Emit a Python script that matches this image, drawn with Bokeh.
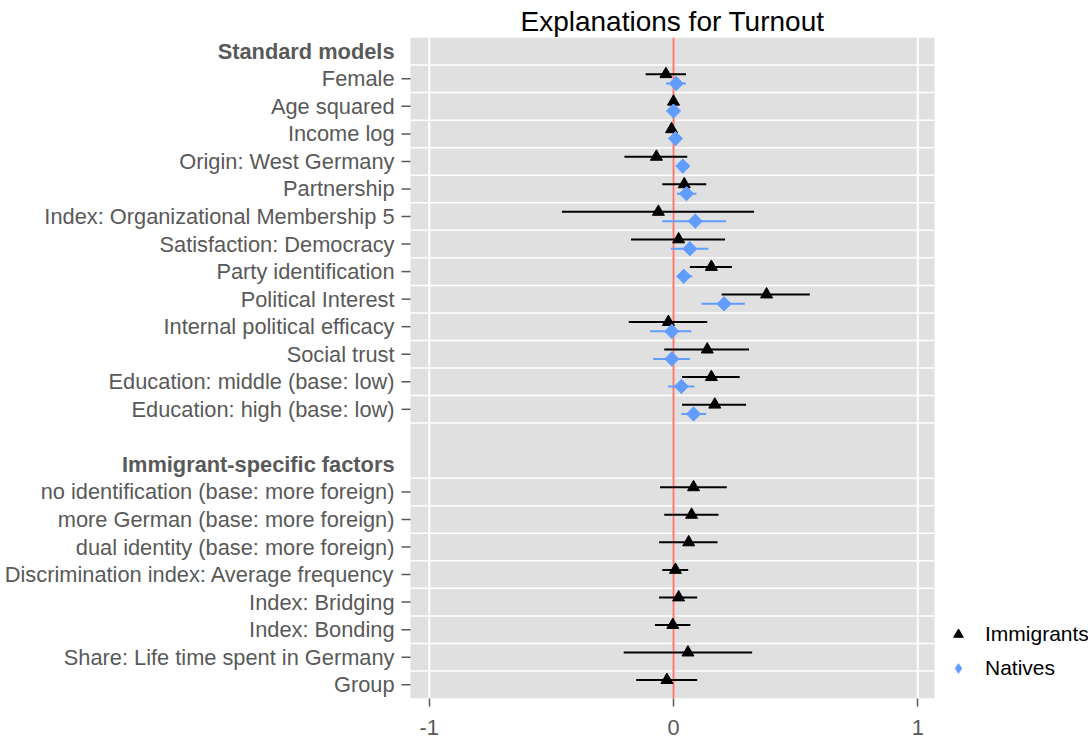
import math
from bokeh.plotting import figure
from bokeh.models import Range1d, FixedTicker, Legend, LegendItem
from bokeh.core.properties import value
from bokeh.embed import file_html
from bokeh.resources import INLINE

# ---------------- data ----------------
title_text = "Explanations for Turnout"
header_standard = "Standard models"
header_immig = "Immigrant-specific factors"

standard_vars = [
    "Female", "Age squared", "Income log", "Origin: West Germany", "Partnership",
    "Index: Organizational Membership 5", "Satisfaction: Democracy",
    "Party identification", "Political Interest", "Internal political efficacy",
    "Social trust", "Education: middle (base: low)", "Education: high (base: low)",
]
immig_vars = [
    "no identification (base: more foreign)", "more German (base: more foreign)",
    "dual identity (base: more foreign)", "Discrimination index: Average frequency",
    "Index: Bridging", "Index: Bonding", "Share: Life time spent in Germany", "Group",
]

imm_vars = standard_vars + immig_vars
imm_est = [-0.031, 0.000, -0.008, -0.070, 0.044, -0.062, 0.021, 0.155, 0.381, -0.021,
           0.138, 0.155, 0.169,
           0.082, 0.074, 0.062, 0.008, 0.021, -0.003, 0.059, -0.027]
imm_lo = [-0.114, -0.010, -0.020, -0.201, -0.046, -0.457, -0.174, 0.067, 0.197, -0.183,
          -0.038, 0.035, 0.035,
          -0.055, -0.038, -0.059, -0.046, -0.059, -0.076, -0.204, -0.153]
imm_hi = [0.051, 0.010, 0.005, 0.056, 0.134, 0.330, 0.211, 0.239, 0.558, 0.138,
          0.309, 0.271, 0.297,
          0.218, 0.184, 0.180, 0.060, 0.097, 0.069, 0.322, 0.097]

nat_vars = standard_vars
nat_est = [0.011, 0.000, 0.008, 0.038, 0.053, 0.089, 0.067, 0.042, 0.207, -0.007,
           -0.007, 0.032, 0.082]
nat_lo = [-0.031, -0.005, 0.000, 0.018, 0.014, -0.046, -0.011, 0.014, 0.115, -0.096,
          -0.083, -0.022, 0.032]
nat_hi = [0.051, 0.005, 0.016, 0.058, 0.094, 0.215, 0.143, 0.077, 0.292, 0.073,
          0.067, 0.086, 0.134]

x_ticks = [-1, 0, 1]
x_tick_labels = ["-1", "0", "1"]
legend_labels = ["Immigrants", "Natives"]

# grey panel limits (data units); the plot frame is wider so that the row labels
# and the legend sit in its white margins
panel_x0, panel_x1 = -1.0768, 1.0686
frame_x0, frame_x1 = -2.7554, 1.699

# ---------------- derived layout ----------------
rows = [header_standard] + standard_vars + [""] + [header_immig] + immig_vars
n = len(rows)
ypos = {name: n - 1 - i for i, name in enumerate(rows)}
data_rows = set(standard_vars) | set(immig_vars)
grid_y = []
for a, b in zip(rows[:-1], rows[1:]):
    if a in data_rows or b in data_rows:
        grid_y.append((ypos[a] + ypos[b]) / 2.0)
y0, y1 = -0.5, n - 0.5
headers = [header_standard, header_immig]

dodge = 0.17
imm_y = [ypos[v] + dodge for v in imm_vars]
nat_y = [ypos[v] - dodge for v in nat_vars]

FONT = "Liberation Sans"
AXIS_COL = "#595959"
BLUE = "#619CFF"
PANEL = "#E0E0E0"
FS = "21.8px"

p = figure(width=1090, height=742,
           x_range=Range1d(frame_x0, frame_x1), y_range=Range1d(y0, y1),
           output_backend="svg", toolbar_location=None,
           min_border_left=0, min_border_right=2,
           min_border_top=37, min_border_bottom=44,
           background_fill_color="white", border_fill_color="white",
           outline_line_color=None)

p.title.text = title_text
p.title.align = "left"
p.title.offset = 520
p.title.text_font = FONT
p.title.text_font_size = "28px"
p.title.text_font_style = "normal"
p.title.text_color = "black"
p.title.standoff = 2

p.xgrid.visible = False
p.ygrid.visible = False
p.yaxis.visible = False

# grey panel
p.quad(left=[panel_x0], right=[panel_x1], bottom=[y0], top=[y1],
       fill_color=PANEL, line_color=None)
# white grid lines
p.segment(x0=[panel_x0] * len(grid_y), x1=[panel_x1] * len(grid_y),
          y0=grid_y, y1=grid_y, line_color="white", line_width=1.5)
p.segment(x0=x_ticks, x1=x_ticks, y0=[y0] * len(x_ticks), y1=[y1] * len(x_ticks),
          line_color="white", line_width=2)
# zero reference line
p.segment(x0=[0], x1=[0], y0=[y0], y1=[y1], line_color="#F8766D", line_width=2)

# x axis
p.xaxis.ticker = FixedTicker(ticks=x_ticks)
p.xaxis.major_label_overrides = {t: l for t, l in zip(x_ticks, x_tick_labels)}
p.xaxis.axis_line_color = None
p.xaxis.minor_tick_line_color = None
p.xaxis.major_tick_line_color = AXIS_COL
p.xaxis.major_tick_line_width = 1.5
p.xaxis.major_tick_in = 0
p.xaxis.major_tick_out = 8
p.xaxis.major_label_text_font = FONT
p.xaxis.major_label_text_font_size = FS
p.xaxis.major_label_text_color = AXIS_COL
p.xaxis.major_label_standoff = 13

# row labels (left of the panel) with tick marks; group headers in bold
row_y = [ypos[v] for v in imm_vars]
p.ray(x=[panel_x0] * len(row_y), y=row_y, length=9, length_units="screen",
      angle=math.pi, line_color=AXIS_COL, line_width=1.5)
p.text(x=[panel_x0] * len(imm_vars), y=row_y, text=imm_vars, x_offset=-16,
       text_align="right", text_baseline="middle", text_font=value(FONT),
       text_font_size=value(FS), text_color=AXIS_COL)
p.text(x=[panel_x0] * len(headers), y=[ypos[h] for h in headers], text=headers,
       x_offset=-16, text_align="right", text_baseline="middle",
       text_font=value(FONT), text_font_size=value(FS), text_font_style="bold",
       text_color=AXIS_COL)

# error bars + points
p.segment(x0=imm_lo, y0=imm_y, x1=imm_hi, y1=imm_y, line_color="black", line_width=2)
p.segment(x0=nat_lo, y0=nat_y, x1=nat_hi, y1=nat_y, line_color=BLUE, line_width=2)
r_imm = p.scatter(x=imm_est, y=imm_y, marker="triangle", size=12,
                  fill_color="black", line_color="black")
# natives: diamond marker (also used as legend key) under a rotated square
r_nat = p.scatter(x=nat_est, y=nat_y, marker="diamond", size=14,
                  fill_color=BLUE, line_color=BLUE)
p.scatter(x=nat_est, y=nat_y, marker="square", size=10, angle=math.pi / 4,
          fill_color=BLUE, line_color=BLUE)

legend = Legend(items=[LegendItem(label=legend_labels[0], renderers=[r_imm]),
                       LegendItem(label=legend_labels[1], renderers=[r_nat])],
                location=(946, 18), orientation="vertical",
                border_line_color=None, background_fill_alpha=0,
                label_text_font=FONT, label_text_font_size="21px",
                label_text_color="black", glyph_width=24, glyph_height=24,
                label_height=24, spacing=10, padding=0, margin=0,
                label_standoff=15)
p.add_layout(legend)

open("out.html", "w").write(file_html(p, INLINE))
